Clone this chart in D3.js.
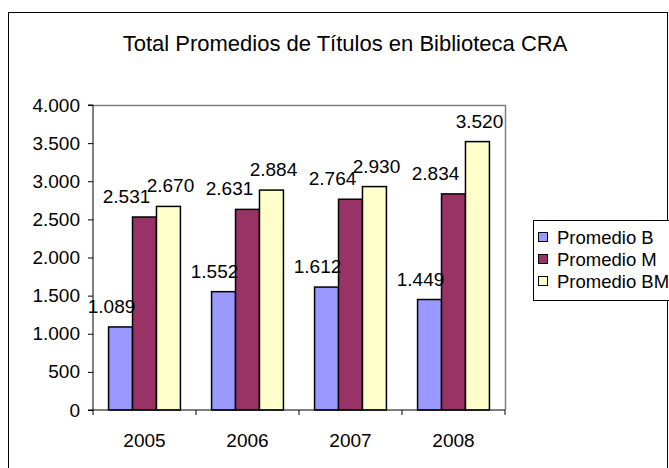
<!DOCTYPE html>
<html>
<head>
<meta charset="utf-8">
<script src="https://cdn.jsdelivr.net/npm/d3@7"></script>
<style>
  html, body { margin: 0; padding: 0; background: #fff; }
  svg { display: block; font-family: "Liberation Sans", Arial, sans-serif; }
</style>
</head>
<body>
<svg id="chart" width="669" height="468"></svg>
<script>
// Series data: average number of titles per year
const years = ["2005", "2006", "2007", "2008"];
const seriesNames = ["Promedio B", "Promedio M", "Promedio BM"];
const promedioB  = [1089, 1552, 1612, 1449];
const promedioM  = [2531, 2631, 2764, 2834];
const promedioBM = [2670, 2884, 2930, 3520];
const yTicks = [0, 500, 1000, 1500, 2000, 2500, 3000, 3500, 4000];
const colors = ["#9999FF", "#993366", "#FFFFCC"];
// horizontal nudge of each series' value labels
const labelDx = [-9, -18, 2];

const seriesValues = [promedioB, promedioM, promedioBM];
const fmt = d3.formatLocale({ decimal: ",", thousands: ".", grouping: [3] }).format(",.0f");

const svg = d3.select("#chart");
const FONT = "'Liberation Sans', Arial, sans-serif";

// outer chart frame
svg.append("rect")
  .attr("x", 8.5).attr("y", 12.5)
  .attr("width", 659).attr("height", 470)
  .attr("fill", "#fff").attr("stroke", "#000").attr("stroke-width", 1);

// title
svg.append("text")
  .attr("x", 345).attr("y", 51)
  .attr("text-anchor", "middle")
  .attr("font-size", 22)
  .text("Total Promedios de Títulos en Biblioteca CRA");

const plot = { left: 93, right: 505, top: 105, bottom: 410 };

const x0 = d3.scaleBand().domain(years).range([plot.left, plot.right]).paddingInner(0).paddingOuter(0);
const x1 = d3.scaleBand().domain(seriesNames).range([0, x0.bandwidth()]).paddingInner(0).paddingOuter(0.65);
const y = d3.scaleLinear().domain([0, 4000]).range([plot.bottom, plot.top]);

// plot area border (top and right in grey)
svg.append("path")
  .attr("d", `M${plot.left},${plot.top + 0.5}H${plot.right + 0.5}V${plot.bottom}`)
  .attr("fill", "none").attr("stroke", "#808080").attr("stroke-width", 1.5);

// bars
const groups = svg.append("g").selectAll("g")
  .data(seriesNames)
  .join("g")
  .attr("fill", (d, i) => colors[i]);

groups.each(function(name, si) {
  d3.select(this).selectAll("rect")
    .data(years.map((yr, i) => ({ yr, v: seriesValues[si][i] })))
    .join("rect")
    .attr("x", d => x0(d.yr) + x1(name))
    .attr("y", d => y(d.v))
    .attr("width", x1.bandwidth())
    .attr("height", d => y(0) - y(d.v))
    .attr("stroke", "#000").attr("stroke-width", 1.5);
});

// value labels
const labels = svg.append("g");
seriesNames.forEach((name, si) => {
  labels.append("g").selectAll("text")
    .data(years.map((yr, i) => ({ yr, v: seriesValues[si][i] })))
    .join("text")
    .attr("x", d => x0(d.yr) + x1(name) + x1.bandwidth() / 2 + labelDx[si])
    .attr("y", d => y(d.v) - 14)
    .attr("text-anchor", "middle")
    .attr("font-size", 19)
    .attr("fill", "#000")
    .text(d => fmt(d.v));
});

// y axis
const yAxis = d3.axisLeft(y).tickValues(yTicks).tickSize(5).tickPadding(8).tickFormat(fmt);
const gy = svg.append("g").attr("transform", `translate(${plot.left},0)`).call(yAxis);
gy.select(".domain").attr("stroke", "#000").attr("d", `M-5,${plot.top}H0V${plot.bottom}`);
gy.selectAll(".tick line").attr("stroke", "#000");
gy.selectAll("text").attr("font-size", 19).attr("font-family", FONT).attr("fill", "#000");

// x axis: ticks at category boundaries
const gx = svg.append("g").attr("transform", `translate(0,${plot.bottom})`);
gx.append("path")
  .attr("d", `M${plot.left - 5},0H${plot.right}`)
  .attr("stroke", "#000").attr("fill", "none");
gx.selectAll("line")
  .data(years.map(yr => x0(yr)).concat([plot.right]))
  .join("line")
  .attr("x1", d => d).attr("x2", d => d)
  .attr("y1", 0).attr("y2", 5)
  .attr("stroke", "#000");
gx.selectAll("text")
  .data(years)
  .join("text")
  .attr("x", d => x0(d) + x0.bandwidth() / 2)
  .attr("y", 37)
  .attr("text-anchor", "middle")
  .attr("font-size", 19)
  .text(d => d);

// legend
const legend = svg.append("g");
legend.append("rect")
  .attr("x", 533.5).attr("y", 220.5)
  .attr("width", 140).attr("height", 80)
  .attr("fill", "#fff").attr("stroke", "#000");
const li = legend.selectAll("g.item")
  .data(seriesNames)
  .join("g").attr("class", "item")
  .attr("transform", (d, i) => `translate(538,${237 + i * 22})`);
li.append("rect")
  .attr("x", 0.5).attr("y", -4.5)
  .attr("width", 9).attr("height", 9)
  .attr("fill", (d, i) => colors[i]).attr("stroke", "#000");
li.append("text")
  .attr("x", 19).attr("y", 6.5)
  .attr("font-size", 18.5)
  .text(d => d);
</script>
</body>
</html>
